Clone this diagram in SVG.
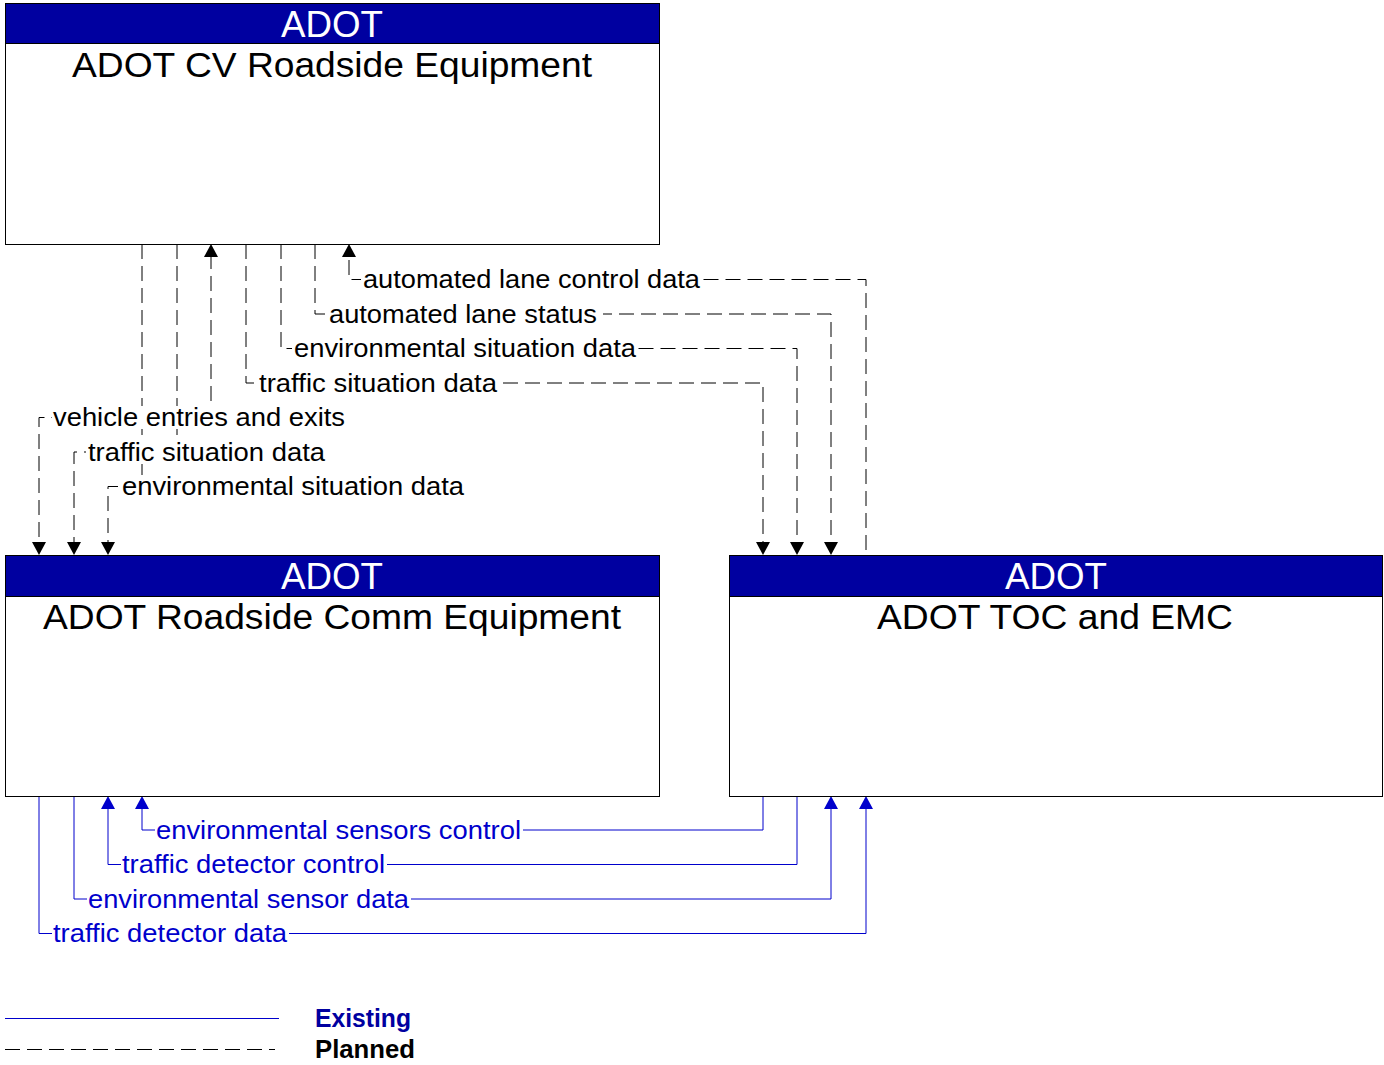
<svg xmlns="http://www.w3.org/2000/svg" width="1384" height="1065" viewBox="0 0 1384 1065">
<style>
.box{fill:#ffffff;stroke:#000000;stroke-width:1}
.hdr{fill:#0000A0;stroke:#000000;stroke-width:1}
.hdrt{font-family:"Liberation Sans",Arial,sans-serif;font-size:36px;fill:#ffffff;text-anchor:middle}
.ttl{font-family:"Liberation Sans",Arial,sans-serif;font-size:35px;fill:#000000;text-anchor:middle}
.pl{fill:none;stroke:#000000;stroke-width:1;stroke-dasharray:15,7}
.ex{fill:none;stroke:#0000CC;stroke-width:1}
.lb{font-family:"Liberation Sans",Arial,sans-serif;font-size:26px;fill:#000000}
.lbb{font-family:"Liberation Sans",Arial,sans-serif;font-size:26px;fill:#0000CC}
.bg{fill:#ffffff;stroke:none}
.ah{fill:#000000}
.ahb{fill:#0000CC}
.lg{font-family:"Liberation Sans",Arial,sans-serif;font-size:25px;font-weight:bold}
</style>
<rect width="1384" height="1065" fill="#ffffff"/>
<g id="connectors">
<path class="pl" d="M866,550 V279.5 H349 V254"/>
<path class="pl" d="M315,244 V314 H831 V545"/>
<path class="pl" d="M281,244 V348.5 H797 V545"/>
<path class="pl" d="M246,244 V383 H763 V545"/>
<path class="pl" d="M211,254 V417.5 H39 V545"/>
<path class="pl" d="M177,244 V452 H74 V545"/>
<path class="pl" d="M142,244 V486.5 H108 V545"/>
<path class="ex" d="M763,796 V830 H142 V806"/>
<path class="ex" d="M797,796 V864.5 H108 V806"/>
<path class="ex" d="M74,796 V899 H831 V806"/>
<path class="ex" d="M39,796 V933.5 H866 V806"/>
<polygon class="ah" points="349,244 342,257 356,257"/>
<polygon class="ah" points="211,244 204,257 218,257"/>
<polygon class="ah" points="831,555 824,542 838,542"/>
<polygon class="ah" points="797,555 790,542 804,542"/>
<polygon class="ah" points="763,555 756,542 770,542"/>
<polygon class="ah" points="39,555 32,542 46,542"/>
<polygon class="ah" points="74,555 67,542 81,542"/>
<polygon class="ah" points="108,555 101,542 115,542"/>
<polygon class="ahb" points="142,796 135,809 149,809"/>
<polygon class="ahb" points="108,796 101,809 115,809"/>
<polygon class="ahb" points="831,796 824,809 838,809"/>
<polygon class="ahb" points="866,796 859,809 873,809"/>
<rect class="bg" x="361" y="268" width="341" height="23"/>
<text class="lb" x="363" y="288" textLength="337" lengthAdjust="spacingAndGlyphs">automated lane control data</text>
<rect class="bg" x="325" y="302.5" width="278" height="23"/>
<text class="lb" x="329" y="322.5" textLength="268" lengthAdjust="spacingAndGlyphs">automated lane status</text>
<rect class="bg" x="292" y="337" width="346" height="23"/>
<text class="lb" x="294" y="357" textLength="342" lengthAdjust="spacingAndGlyphs">environmental situation data</text>
<rect class="bg" x="258" y="371.5" width="241" height="23"/>
<text class="lb" x="259" y="391.5" textLength="238" lengthAdjust="spacingAndGlyphs">traffic situation data</text>
<rect class="bg" x="52" y="406" width="295" height="23"/>
<text class="lb" x="53" y="426" textLength="292" lengthAdjust="spacingAndGlyphs">vehicle entries and exits</text>
<rect class="bg" x="86" y="440.5" width="240" height="23"/>
<text class="lb" x="88" y="460.5" textLength="237" lengthAdjust="spacingAndGlyphs">traffic situation data</text>
<rect class="bg" x="118" y="475" width="348" height="23"/>
<text class="lb" x="122" y="495" textLength="342" lengthAdjust="spacingAndGlyphs">environmental situation data</text>
<rect class="bg" x="155" y="818.5" width="368" height="23"/>
<text class="lbb" x="156" y="838.5" textLength="365" lengthAdjust="spacingAndGlyphs">environmental sensors control</text>
<rect class="bg" x="121" y="853" width="266" height="23"/>
<text class="lbb" x="122" y="873" textLength="263" lengthAdjust="spacingAndGlyphs">traffic detector control</text>
<rect class="bg" x="87" y="887.5" width="324" height="23"/>
<text class="lbb" x="88" y="907.5" textLength="321" lengthAdjust="spacingAndGlyphs">environmental sensor data</text>
<rect class="bg" x="52" y="922" width="237" height="23"/>
<text class="lbb" x="53" y="942" textLength="234" lengthAdjust="spacingAndGlyphs">traffic detector data</text>
</g>
<g id="node-cv">
<rect class="box" x="5.5" y="3.5" width="654" height="241"/>
<rect class="hdr" x="5.5" y="3.5" width="654" height="40"/>
<text class="hdrt" x="332" y="37" textLength="102" lengthAdjust="spacingAndGlyphs">ADOT</text>
<text class="ttl" x="332" y="77" textLength="520" lengthAdjust="spacingAndGlyphs">ADOT CV Roadside Equipment</text>
</g>
<g id="node-rce">
<rect class="box" x="5.5" y="555.5" width="654" height="241"/>
<rect class="hdr" x="5.5" y="555.5" width="654" height="41"/>
<text class="hdrt" x="332" y="589" textLength="102" lengthAdjust="spacingAndGlyphs">ADOT</text>
<text class="ttl" x="332" y="629" textLength="578" lengthAdjust="spacingAndGlyphs">ADOT Roadside Comm Equipment</text>
</g>
<g id="node-toc">
<rect class="box" x="729.5" y="555.5" width="653" height="241"/>
<rect class="hdr" x="729.5" y="555.5" width="653" height="41"/>
<text class="hdrt" x="1056" y="589" textLength="102" lengthAdjust="spacingAndGlyphs">ADOT</text>
<text class="ttl" x="1055" y="629" textLength="356" lengthAdjust="spacingAndGlyphs">ADOT TOC and EMC</text>
</g>
<g id="legend">
<line class="ex" x1="5" y1="1018.5" x2="279" y2="1018.5"/>
<line class="pl" x1="5" y1="1049.5" x2="275" y2="1049.5"/>
<text class="lg" x="315" y="1027" fill="#0000A0" textLength="96" lengthAdjust="spacingAndGlyphs">Existing</text>
<text class="lg" x="315" y="1058" fill="#000000" textLength="100" lengthAdjust="spacingAndGlyphs">Planned</text>
</g>
</svg>
